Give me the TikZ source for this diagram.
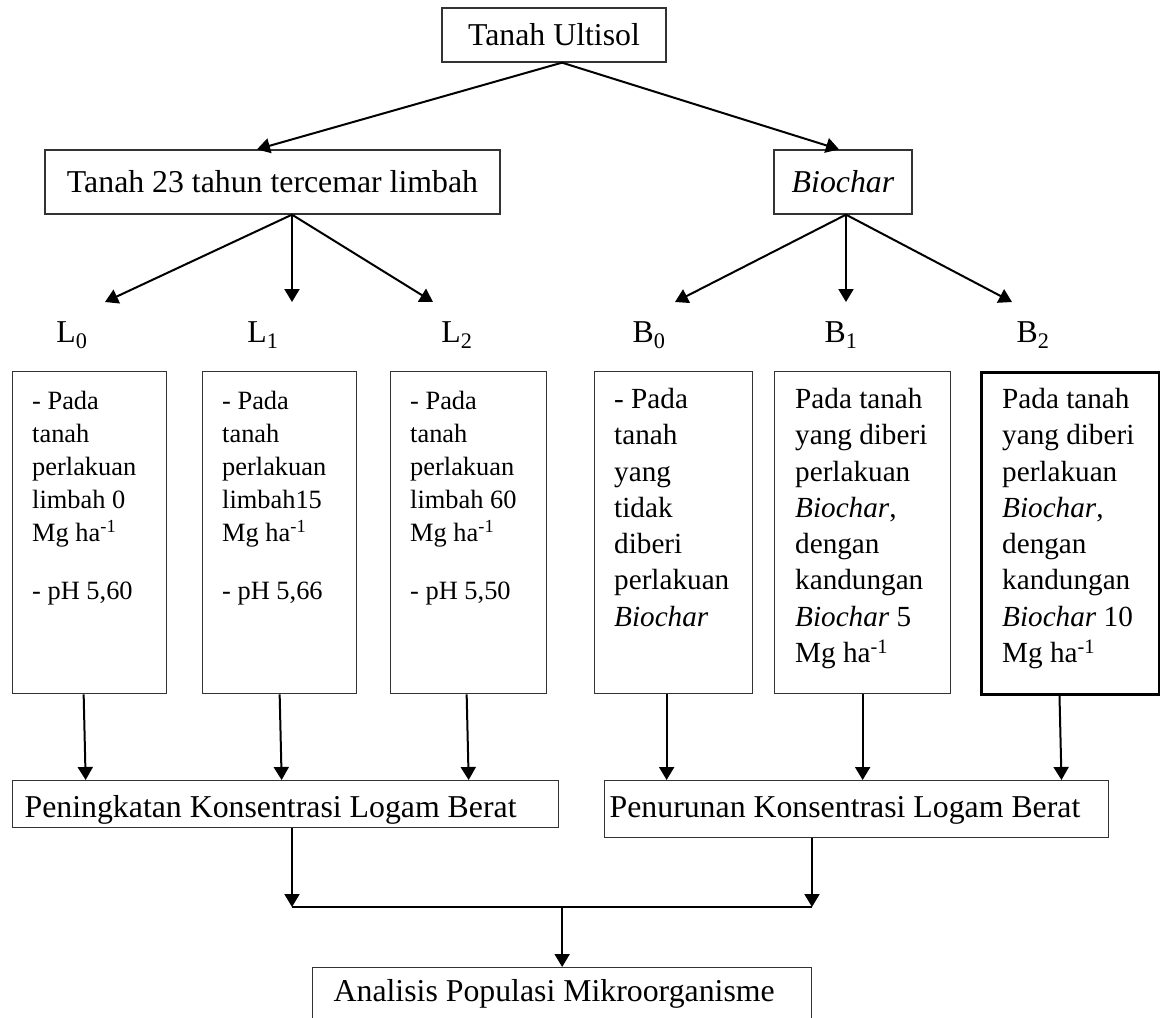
\documentclass[tikz,border=0pt]{standalone}
\usepackage{fontspec}
\setmainfont{Liberation Serif}
\usetikzlibrary{arrows.meta}

\tikzset{
	teks/.style={font=\fontsize{31.8pt}{38pt}\selectfont},
	kotak/.style={teks, draw=black!80, line width=1.3pt, inner sep=0pt},
	panah/.style={-{Triangle[length=13pt,width=15pt]}, line width=2pt},
	perlakuan/.style={draw=black!80, line width=1.3pt, anchor=north west, minimum height=322pt, inner sep=0pt},
	isiL/.style={font=\fontsize{26.4pt}{33pt}\selectfont, align=flush left, anchor=north west, inner sep=0pt},
	isiB/.style={font=\fontsize{29.2pt}{36.3pt}\selectfont, align=flush left, anchor=north west, inner sep=0pt},
	hasil/.style={kotak, anchor=north west, align=flush left, inner ysep=5pt, text height=32pt},
}

\begin{document}
\begin{tikzpicture}[x=1pt,y=-1pt]
	\useasboundingbox (0,0) rectangle (1160,1018);
	\clip (0,0) rectangle (1160,1018);

	%draw the top of the tree
	\node[kotak, minimum width=224, minimum height=54] (ultisol) at (554,35) {Tanah Ultisol};
	\node[kotak, minimum width=455, minimum height=64] (tanah) at (272.5,182) {Tanah 23 tahun tercemar limbah};
	\node[kotak, minimum width=138, minimum height=64] (biochar) at (843,182) {\textit{Biochar}};

	\draw[panah] ([xshift=8]ultisol.south) -- ([xshift=-15.5]tanah.north);
	\draw[panah] ([xshift=8]ultisol.south) -- ([xshift=-4]biochar.north);

	%arrows down to the treatments
	\coordinate (uL0) at (105,302);
	\coordinate (uL1) at (292,302);
	\coordinate (uL2) at (433,302);
	\coordinate (uB0) at (675,302);
	\coordinate (uB1) at (846,302);
	\coordinate (uB2) at (1012,302);
	\foreach \t in {uL0,uL1,uL2} \draw[panah] ([xshift=19.5]tanah.south) -- (\t);
	\foreach \t in {uB0,uB1,uB2} \draw[panah] ([xshift=3]biochar.south) -- (\t);

	\node[teks, anchor=base] (L0) at (72,342) {L\textsubscript{0}};
	\node[teks, anchor=base] (L1) at (263,342) {L\textsubscript{1}};
	\node[teks, anchor=base] (L2) at (457,342) {L\textsubscript{2}};
	\node[teks, anchor=base] (B0) at (649,342) {B\textsubscript{0}};
	\node[teks, anchor=base] (B1) at (841,342) {B\textsubscript{1}};
	\node[teks, anchor=base] (B2) at (1033,342) {B\textsubscript{2}};

	%treatment boxes
	\node[perlakuan, minimum width=154] (l0) at (12,371) {};
	\node[perlakuan, minimum width=154] (l1) at (202,371) {};
	\node[perlakuan, minimum width=156] (l2) at (390,371) {};
	\node[perlakuan, minimum width=158] (b0) at (594,371) {};
	\node[perlakuan, minimum width=176] (b1) at (774,371) {};
	\node[perlakuan, minimum width=178, draw=black, line width=3pt] (b2) at (980,371) {};

	\node[isiL] (l0isi) at ([shift={(20,20)}]l0.north west) {- Pada\\tanah\\perlakuan\\limbah 0\\Mg ha\textsuperscript{-1}\\[25pt]- pH 5,60};
	\node[isiL] (l1isi) at ([shift={(20,20)}]l1.north west) {- Pada\\tanah\\perlakuan\\limbah15\\Mg ha\textsuperscript{-1}\\[25pt]- pH 5,66};
	\node[isiL] (l2isi) at ([shift={(20,20)}]l2.north west) {- Pada\\tanah\\perlakuan\\limbah 60\\Mg ha\textsuperscript{-1}\\[25pt]- pH 5,50};
	\node[isiB] (b0isi) at ([shift={(20,17)}]b0.north west) {- Pada\\tanah\\yang\\tidak\\diberi\\perlakuan\\\textit{Biochar}};
	\node[isiB] (b1isi) at ([shift={(21,17)}]b1.north west) {Pada tanah\\yang diberi\\perlakuan\\\textit{Biochar},\\dengan\\kandungan\\\textit{Biochar} 5\\Mg ha\textsuperscript{-1}};
	\node[isiB] (b2isi) at ([shift={(22,17)}]b2.north west) {Pada tanah\\yang diberi\\perlakuan\\\textit{Biochar},\\dengan\\kandungan\\\textit{Biochar} 10\\Mg ha\textsuperscript{-1}};

	%result boxes
	\node[hasil, text width=522pt, inner xsep=12pt, text depth=5pt] (naik) at (12,780) {Peningkatan Konsentrasi Logam Berat};
	\node[hasil, text width=494pt, inner xsep=5pt, text depth=15pt] (turun) at (604,780) {Penurunan Konsentrasi Logam Berat};
	\node[hasil, text width=457pt, inner xsep=21pt, inner ysep=12pt, text height=22pt, text depth=30pt] (analisis) at (312,967) {Analisis Populasi Mikroorganisme};

	\foreach \k/\a/\b/\t in {l0/-6/-4/naik, l1/0/2/naik, l2/-2/0/naik, b0/-7/-7/turun, b1/0/0/turun, b2/-11/-9/turun}
		\draw[panah] ([xshift=\a]\k.south) -- ([xshift=\b]\k.south |- \t.north);

	%join both results
	\coordinate (kiri) at (292,907);
	\coordinate (kanan) at (812,907);
	\draw[panah] (naik.south -| kiri) -- (kiri);
	\draw[panah] (turun.south -| kanan) -- (kanan);
	\draw[line width=2pt] (kiri) -- (kanan);
	\draw[panah] (analisis.north |- kiri) -- (analisis.north);

\end{tikzpicture}
\end{document}
